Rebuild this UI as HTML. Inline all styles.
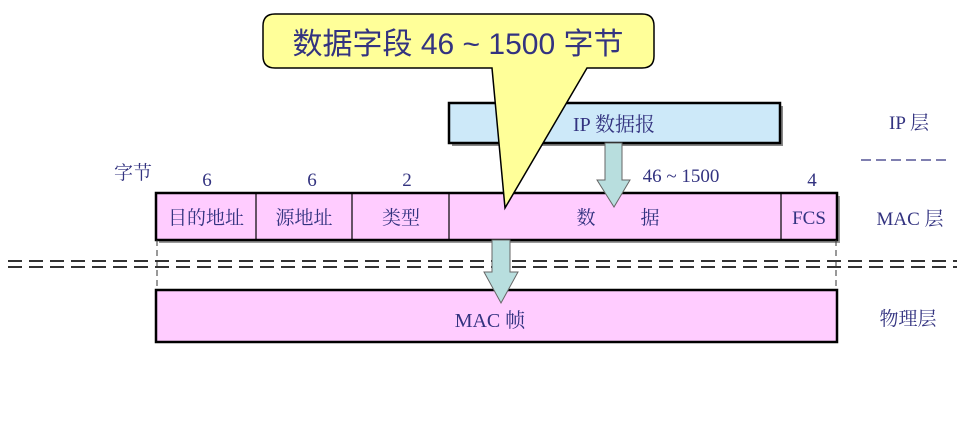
<!DOCTYPE html>
<html><head><meta charset="utf-8"><style>
body{margin:0;background:#fff}
svg{display:block}
text{font-family:"Liberation Serif","Noto Serif CJK SC",serif;fill:#333380}
</style></head><body>
<svg width="957" height="432" viewBox="0 0 957 432" xmlns="http://www.w3.org/2000/svg">
<rect x="452" y="106" width="331" height="40" fill="#888"/>
<rect x="449" y="103" width="331" height="40" fill="#cde9f9" stroke="#000" stroke-width="2.5"/>
<text x="614" y="131" font-size="20" text-anchor="middle">IP 数据报</text>
<rect x="159" y="196" width="681" height="47" fill="#999"/>
<rect x="156" y="193" width="681" height="47" fill="#ffccff" stroke="#000" stroke-width="2.5"/>
<g stroke="#000" stroke-width="1.2">
<line x1="256" y1="193" x2="256" y2="240"/><line x1="352" y1="193" x2="352" y2="240"/>
<line x1="449" y1="193" x2="449" y2="240"/><line x1="781" y1="193" x2="781" y2="240"/>
</g>
<g font-size="19" text-anchor="middle">
<text x="206" y="224">目的地址</text><text x="304" y="224">源地址</text><text x="401" y="224">类型</text>
<text x="586" y="224">数</text><text x="650" y="224">据</text><text x="809" y="224">FCS</text>
<text x="207" y="186">6</text><text x="312" y="186">6</text><text x="407" y="186">2</text>
<text x="681" y="182">46 ~ 1500</text><text x="812" y="186">4</text>
<text x="133" y="179">字节</text>
<text x="909" y="129">IP 层</text><text x="910" y="225">MAC 层</text><text x="908" y="325">物理层</text>
</g>
<line x1="861" y1="160" x2="946" y2="160" stroke="#333380" stroke-width="1.2" stroke-dasharray="10,5"/>
<line x1="8" y1="261" x2="957" y2="261" stroke="#333" stroke-width="2" stroke-dasharray="14,7"/>
<line x1="8" y1="267" x2="957" y2="267" stroke="#333" stroke-width="2" stroke-dasharray="14,7"/>
<line x1="157" y1="240" x2="157" y2="290" stroke="#333" stroke-width="1" stroke-dasharray="6,4"/>
<line x1="836" y1="240" x2="836" y2="290" stroke="#333" stroke-width="1" stroke-dasharray="6,4"/>
<rect x="156" y="290" width="681" height="52" fill="#ffccff" stroke="#000" stroke-width="2.5"/>
<text x="490" y="327" font-size="20" text-anchor="middle">MAC 帧</text>
<path d="M605 143 H622 V180 H630 L614 207 L597 180 H605 Z" fill="#b8dede" stroke="#666" stroke-width="1"/>
<path d="M492 240 H510 V272 H518 L501 303 L484 272 H492 Z" fill="#b8dede" stroke="#666" stroke-width="1"/>
<path d="M275 14 H642 Q654 14 654 26 V56 Q654 68 642 68 H587 L505 208 L492 68 H275 Q263 68 263 56 V26 Q263 14 275 14 Z" fill="#ffff99" stroke="#000" stroke-width="1.5"/>
<text x="458" y="54" font-size="30" text-anchor="middle" style="font-family:'Liberation Sans','Noto Sans CJK SC',sans-serif;fill:#333380">数据字段 46 ~ 1500 字节</text>
</svg>
</body></html>
